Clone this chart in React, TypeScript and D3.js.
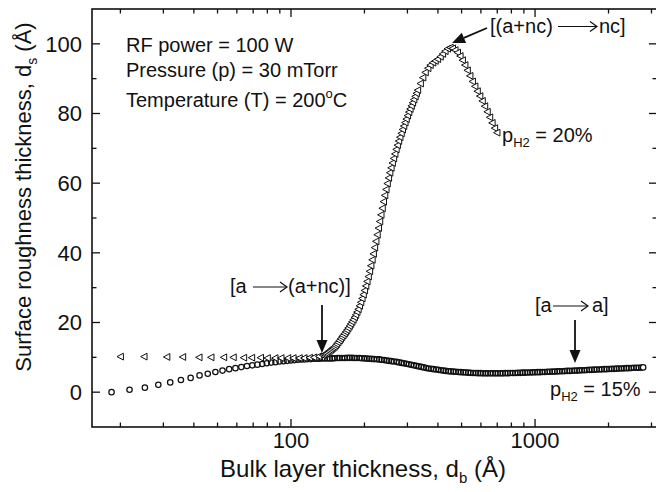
import React from "react";
import * as d3 from "d3";

// ---- Data ----
// p_H2 = 20% series (left-pointing triangles)
const tri20X = [20, 25, 31, 36, 42, 47, 53, 58, 64, 69, 75, 80, 86, 91, 97, 102, 108, 113, 119, 124, 130,
  135, 136.6, 138.3, 139.9, 141.6, 143.3, 145.0, 146.8, 148.5, 150.3, 152.1, 153.9, 155.8, 157.7, 159.6, 161.5, 163.4, 165.4, 167.4, 169.4, 171.4, 173.5, 175.6, 177.7, 179.8, 182.0, 184.2, 186.4, 188.6, 190.9, 193.2, 195.5, 197.8, 200.2, 202.6, 205.0, 207.5, 210.0, 212.5, 215.1, 217.6, 220.2, 222.9, 225.6, 228.3, 231.0, 233.8, 236.6, 239.4, 242.3, 245.2, 248.1, 251.1, 254.1, 257.2, 260.3, 263.4, 266.6, 269.8, 273.0, 276.3, 279.6, 283.0, 286.4, 289.8, 293.3, 296.8, 300.4, 304.0, 307.6, 311.3, 315.0, 318.8, 322.7, 326.5, 330.4,
  339, 347, 355, 364, 372, 381, 390, 399, 409, 418, 428, 438, 449, 459, 470, 481, 493, 504, 516, 528, 541, 554, 567, 580, 594, 608, 622, 637, 652, 667, 683, 698];
const tri20Y = [10.2, 10.2, 10.1, 10.1, 10.0, 10.0, 10.0, 10.0, 9.9, 9.9, 9.9, 9.8, 9.8, 9.8, 9.8, 9.8, 9.8, 9.8, 9.9, 10.0, 10.3,
  10.6, 10.8, 11.0, 11.2, 11.5, 11.8, 12.1, 12.4, 12.7, 13.0, 13.4, 13.8, 14.3, 14.8, 15.3, 15.8, 16.3, 16.8, 17.3, 17.8, 18.4, 19.0, 19.6, 20.2, 20.8, 21.5, 22.2, 23.0, 23.8, 24.8, 25.8, 26.9, 28.0, 29.2, 30.5, 31.8, 33.2, 34.7, 36.3, 38.0, 39.7, 41.5, 43.3, 45.2, 47.1, 49.0, 50.9, 52.8, 54.7, 56.5, 58.2, 59.9, 61.5, 63.0, 64.4, 65.8, 67.1, 68.4, 69.7, 70.9, 72.1, 73.2, 74.3, 75.4, 76.4, 77.4, 78.4, 79.4, 80.4, 81.3, 82.2, 83.1, 84.0, 84.9, 85.8, 86.7,
  88.6, 90.3, 91.8, 93.0, 93.9, 94.6, 95.1, 95.6, 96.3, 97.1, 97.9, 98.6, 98.9, 98.7, 98.2, 97.5, 96.5, 95.3, 93.9, 92.4, 90.8, 89.2, 87.8, 86.4, 85.0, 83.6, 82.1, 80.5, 78.9, 77.3, 75.8, 74.5];

// p_H2 = 15% series (open circles)
const circ15X = [18.4, 21.8, 25.2, 28.6, 32, 35.4, 38.8, 42.2, 45.6, 49, 52.4, 55.8, 59.2, 62.6, 66, 69.4, 72.8, 76.2, 79.6, 83, 86.4, 89.8, 93.2, 96.6, 100, 103.4, 106.8, 110.2, 113.6, 117, 120.4, 123.8, 127.2, 130.6, 134, 137.4, 140.8, 144.2,
  147.6, 151, 155, 158, 162, 166, 170, 174, 178, 182, 186, 191, 195, 200, 205, 209, 214, 219, 225, 230, 235, 241, 247, 252, 258, 264, 271, 277, 284, 290, 297, 304, 311, 319, 326, 334, 342, 350, 358, 366, 375, 384, 393, 402, 412, 421, 431, 442, 452, 463, 474, 485, 496, 508, 520, 532, 545, 558, 571, 584, 598, 612, 627, 641, 657, 672, 688, 704, 721, 738, 755, 773, 791, 810, 829, 849, 869, 889, 910, 932, 954, 976, 999, 1023, 1047, 1072, 1097, 1123, 1149, 1176, 1204, 1233, 1262, 1291, 1322, 1353, 1385, 1418, 1451, 1485, 1521, 1556, 1593, 1631, 1669, 1709, 1749, 1790, 1832, 1876, 1920, 1965, 2012, 2059, 2108, 2157, 2208, 2260, 2314, 2368, 2424, 2482, 2540, 2600, 2661, 2724, 2773];
const circ15Y = [0.0, 0.7, 1.3, 2.1, 2.8, 3.5, 4.1, 4.8, 5.3, 5.8, 6.2, 6.6, 6.9, 7.2, 7.5, 7.7, 7.9, 8.1, 8.3, 8.5, 8.6, 8.8, 8.9, 9.0, 9.1, 9.2, 9.3, 9.4, 9.4, 9.5, 9.5, 9.6, 9.6, 9.6, 9.7, 9.7, 9.7, 9.7,
  9.7, 9.75, 9.8, 9.8, 9.8, 9.8, 9.85, 9.85, 9.85, 9.8, 9.8, 9.8, 9.75, 9.7, 9.65, 9.6, 9.55, 9.5, 9.45, 9.4, 9.3, 9.2, 9.1, 9.0, 8.9, 8.8, 8.7, 8.55, 8.4, 8.3, 8.15, 8.0, 7.85, 7.7, 7.55, 7.4, 7.25, 7.1, 6.95, 6.8, 6.7, 6.6, 6.5, 6.4, 6.3, 6.2, 6.1, 6.0, 5.95, 5.9, 5.85, 5.8, 5.75, 5.7, 5.65, 5.6, 5.55, 5.5, 5.5, 5.45, 5.45, 5.4, 5.4, 5.4, 5.4, 5.4, 5.4, 5.4, 5.4, 5.4, 5.45, 5.45, 5.5, 5.5, 5.5, 5.55, 5.55, 5.6, 5.6, 5.65, 5.65, 5.7, 5.7, 5.75, 5.75, 5.8, 5.8, 5.85, 5.85, 5.9, 5.9, 5.95, 6.0, 6.0, 6.05, 6.1, 6.1, 6.15, 6.2, 6.2, 6.25, 6.3, 6.3, 6.35, 6.4, 6.4, 6.45, 6.5, 6.5, 6.55, 6.6, 6.6, 6.65, 6.7, 6.7, 6.75, 6.8, 6.8, 6.85, 6.9, 6.9, 6.95, 7.0, 7.0, 7.0, 7.05, 7.1];

const xMajorTicks = [100, 1000];
const xMinorTicks = [20, 30, 40, 50, 60, 70, 80, 90, 200, 300, 400, 500, 600, 700, 800, 900, 2000, 3000];
const yMajorTicks = [0, 20, 40, 60, 80, 100];
const yMinorTicks = [10, 30, 50, 70, 90];

const W = 656, H = 492;
const L = 92, R = 657, T = 9, B = 427;
const FONT = "'Liberation Sans', Arial, Helvetica, sans-serif";

const x = d3.scaleLog().domain([15.3, 3160]).range([L, R]);
const y = d3.scaleLinear().domain([-10, 110]).range([B, T]);

const triPath = "M-3.4,0L3,-3.4L3,3.4Z";

function HArrow({ x1, x2, yy }: { x1: number; x2: number; yy: number }) {
  return (
    <g stroke="#111" strokeWidth={1.2} fill="none">
      <line x1={x1} y1={yy} x2={x2} y2={yy} />
      <polyline points={`${x2 - 7},${yy - 5} ${x2},${yy} ${x2 - 7},${yy + 5}`} />
    </g>
  );
}

function SolidArrow({ x1, y1, x2, y2 }: { x1: number; y1: number; x2: number; y2: number }) {
  const ang = Math.atan2(y2 - y1, x2 - x1);
  const len = 13, hw = 5.5;
  const bx = x2 - len * Math.cos(ang), by = y2 - len * Math.sin(ang);
  const px = -Math.sin(ang) * hw, py = Math.cos(ang) * hw;
  return (
    <g>
      <line x1={x1} y1={y1} x2={bx} y2={by} stroke="#111" strokeWidth={1.8} />
      <path d={`M${x2},${y2}L${bx + px},${by + py}L${bx - px},${by - py}Z`} fill="#111" />
    </g>
  );
}

export default function App() {
  const circ = circ15X.map((v, i) => [v, circ15Y[i]]);
  const tri = tri20X.map((v, i) => [v, tri20Y[i]]);
  return (
    <svg width={W} height={H} style={{ position: "absolute", left: 0, top: 0, background: "#fff" }} fontFamily={FONT}>
      <rect x={0} y={0} width={W} height={H} fill="#fff" />
      {/* data: circles */}
      <g stroke="#111" strokeWidth={1.25} fill="none">
        {circ.map((d, i) => (
          <circle key={i} cx={x(d[0])} cy={y(d[1])} r={2.7} fill={i === circ.length - 1 ? "#fff" : "none"} />
        ))}
      </g>
      {/* data: triangles */}
      <g stroke="#111" strokeWidth={1} fill="#fff">
        {tri.map((d, i) => (
          <path key={i} d={triPath} transform={`translate(${x(d[0])},${y(d[1])})`} />
        ))}
      </g>
      {/* frame */}
      <rect x={L} y={T} width={R - L} height={B - T} fill="none" stroke="#111" strokeWidth={1.6} />
      {/* ticks */}
      <g stroke="#111" strokeWidth={1.3}>
        {xMajorTicks.map((t) => (
          <g key={"xM" + t}>
            <line x1={x(t)} x2={x(t)} y1={B} y2={B - 8} />
            <line x1={x(t)} x2={x(t)} y1={T} y2={T + 8} />
          </g>
        ))}
        {xMinorTicks.map((t) => (
          <g key={"xm" + t}>
            <line x1={x(t)} x2={x(t)} y1={B} y2={B - 4.5} />
            <line x1={x(t)} x2={x(t)} y1={T} y2={T + 4.5} />
          </g>
        ))}
        {yMajorTicks.map((t) => (
          <g key={"yM" + t}>
            <line x1={L} x2={L + 8} y1={y(t)} y2={y(t)} />
            <line x1={R} x2={R - 8} y1={y(t)} y2={y(t)} />
          </g>
        ))}
        {yMinorTicks.map((t) => (
          <g key={"ym" + t}>
            <line x1={L} x2={L + 4.5} y1={y(t)} y2={y(t)} />
            <line x1={R} x2={R - 4.5} y1={y(t)} y2={y(t)} />
          </g>
        ))}
      </g>
      {/* tick labels */}
      <g fontSize={22} fill="#111">
        {yMajorTicks.map((t) => (
          <text key={"yl" + t} x={82} y={y(t)} dy="0.36em" textAnchor="end">{t}</text>
        ))}
        {xMajorTicks.map((t) => (
          <text key={"xl" + t} x={x(t)} y={448} textAnchor="middle">{t}</text>
        ))}
      </g>
      {/* axis titles */}
      <text x={363} y={477} fontSize={24} textAnchor="middle" fill="#111">
        Bulk layer thickness, d<tspan fontSize={15} dy={6}>b</tspan><tspan dy={-6}> (Å)</tspan>
      </text>
      <text transform="translate(31,197) rotate(-90)" fontSize={22} textAnchor="middle" fill="#111">
        Surface roughness thickness, d<tspan fontSize={14} dy={6}>s</tspan><tspan dy={-6}> (Å)</tspan>
      </text>
      {/* conditions */}
      <g fontSize={20} fill="#111">
        <text x={126} y={52}>RF power = 100 W</text>
        <text x={126} y={77}>Pressure (p) = 30 mTorr</text>
        <text x={126} y={107}>Temperature (T) = 200<tspan fontSize={13} dy={-9}>o</tspan><tspan dy={9}>C</tspan></text>
      </g>
      {/* annotations */}
      <g fontSize={20} fill="#111">
        <text x={230} y={293}>[a</text>
        <HArrow x1={253} x2={287} yy={287} />
        <text x={288} y={293}>(a+nc)]</text>

        <text x={490} y={33}>[(a+nc)</text>
        <HArrow x1={558} x2={597} yy={26.5} />
        <text x={599} y={33}>nc]</text>

        <text x={535} y={312}>[a</text>
        <HArrow x1={553} x2={588} yy={306} />
        <text x={592} y={312}>a]</text>

        <text x={502} y={142}>p<tspan fontSize={13} dy={5}>H2</tspan><tspan dy={-5}> = 20%</tspan></text>
        <text x={550} y={396}>p<tspan fontSize={13} dy={5}>H2</tspan><tspan dy={-5}> = 15%</tspan></text>
      </g>
      <SolidArrow x1={322} y1={305} x2={322} y2={353} />
      <SolidArrow x1={575} y1={320} x2={575} y2={363} />
      <SolidArrow x1={487} y1={28} x2={452} y2={43} />
    </svg>
  );
}
